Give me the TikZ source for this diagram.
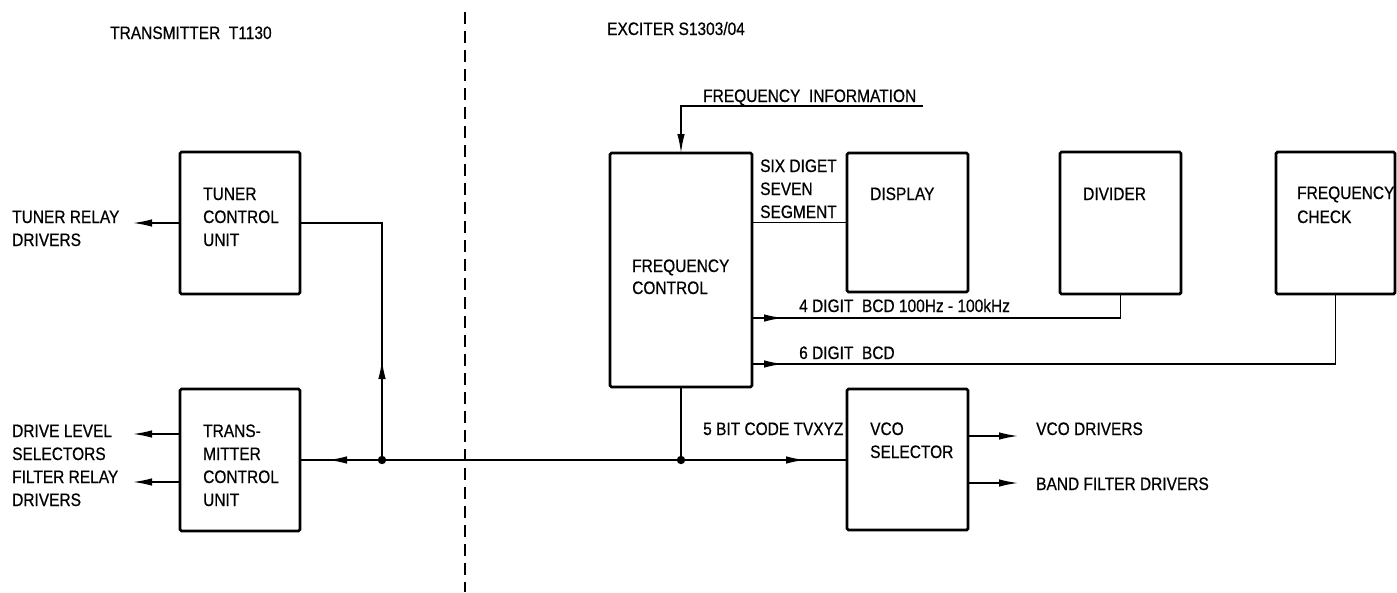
\documentclass[tikz,border=0pt]{standalone}
\usepackage{fontspec}
\setmainfont{Liberation Sans}[FakeStretch=0.86,FakeBold=0.6]
\usetikzlibrary{arrows.meta}
\begin{document}
\begin{tikzpicture}[x=1pt,y=-1pt,
  blk/.style={draw, line width=2.8pt, rounded corners=1.5pt, inner sep=0pt, outer sep=0pt, anchor=north west},
  txt/.style={anchor=base west, inner sep=0pt, font=\fontsize{18}{20}\selectfont},
  conn/.style={line width=1.5pt},
  tip/.style={-{Latex[length=19pt,width=7.5pt]}},
  divline/.style={line width=1.3pt, dash pattern=on 12pt off 7pt}]
\useasboundingbox (0,0) rectangle (1397,592);

% dividing line
\coordinate (dtop) at (465,12);
\coordinate (dbot) at (465,592);
\draw[divline] (dtop) -- (dbot);

% titles
\node[txt] (t1) at (110,39) {TRANSMITTER\ \ T1130};
\node[txt] (t2) at (607,35) {EXCITER S1303/04};

% boxes
\node[blk, minimum width=120pt, minimum height=142pt] (tuner) at (180,152) {};
\node[blk, minimum width=120pt, minimum height=142pt] (tmcu) at (180,389) {};
\node[blk, minimum width=142pt, minimum height=234pt] (fc) at (610,153) {};
\node[blk, minimum width=121pt, minimum height=139pt] (disp) at (847,153) {};
\node[blk, minimum width=121pt, minimum height=142pt] (div) at (1060,152) {};
\node[blk, minimum width=119pt, minimum height=142pt] (fchk) at (1276,152) {};
\node[blk, minimum width=121pt, minimum height=141pt] (vco) at (847,389) {};

% box texts
\node[txt] (tu1) at (203,200) {TUNER};
\node[txt] (tu2) at (203,223) {CONTROL};
\node[txt] (tu3) at (203,246) {UNIT};
\node[txt] (tm1) at (203,437) {TRANS-};
\node[txt] (tm2) at (203,460) {MITTER};
\node[txt] (tm3) at (203,483) {CONTROL};
\node[txt] (tm4) at (203,506) {UNIT};
\node[txt] (fc1) at (632,272) {FREQUENCY};
\node[txt] (fc2) at (632,294) {CONTROL};
\node[txt] (di1) at (870,200) {DISPLAY};
\node[txt] (dv1) at (1083,200) {DIVIDER};
\node[txt] (fk1) at (1297,199) {FREQUENCY};
\node[txt] (fk2) at (1297,223) {CHECK};
\node[txt] (vc1) at (870,435) {VCO};
\node[txt] (vc2) at (870,458) {SELECTOR};

% left labels
\node[txt] (l1) at (12,223) {TUNER RELAY};
\node[txt] (l2) at (12,246) {DRIVERS};
\node[txt] (l3) at (12,437) {DRIVE LEVEL};
\node[txt] (l4) at (12,460) {SELECTORS};
\node[txt] (l5) at (12,483) {FILTER RELAY};
\node[txt] (l6) at (12,506) {DRIVERS};

% other labels
\node[txt] (fi1) at (703,102) {FREQUENCY\ \ INFORMATION};
\node[txt] (sx1) at (760,172) {SIX DIGET};
\node[txt] (sx2) at (760,195) {SEVEN};
\node[txt] (sx3) at (760,218) {SEGMENT};
\node[txt] (bcd4) at (799,312) {4 DIGIT\ \ BCD 100Hz - 100kHz};
\node[txt] (bcd6) at (799,359) {6 DIGIT\ \ BCD};
\node[txt] (bit5) at (703,435) {5 BIT CODE TVXYZ};
\node[txt] (vd) at (1036,435) {VCO DRIVERS};
\node[txt] (bf) at (1036,490) {BAND FILTER DRIVERS};

% left arrows
\coordinate (trd) at (133,223);
\draw[conn,tip] (trd -| tuner.west) -- (trd);
\coordinate (dl) at (133,434);
\draw[conn,tip] (dl -| tmcu.west) -- (dl);
\coordinate (fr) at (133,482);
\draw[conn,tip] (fr -| tmcu.west) -- (fr);

% bus
\coordinate (j1) at (382,460);
\coordinate (j2) at (681,460);
\coordinate (b1) at (328,460);
\coordinate (b2) at (805,460);
\coordinate (u1) at (382,360);
\draw[conn] (tmcu.east |- j1) -- (vco.west |- j1);
\draw[conn,tip] (j1) -- (b1);
\draw[conn,tip] (j2) -- (b2);
\draw[conn] (j1) -- (j1 |- tuner.east) -- (tuner.east);
\draw[conn,tip] (j1) -- (u1);
\draw[conn] (fc.south) -- (j2);
\fill (j1) circle (4.2pt);
\fill (j2) circle (4.2pt);

% frequency information
\coordinate (fi) at (923,106);
\coordinate (fik) at (681,106);
\draw[conn,tip] (fi) -- (fik) -- (fik |- fc.north);

% FC to display
\draw[conn] (fc.east |- disp.west) -- (disp.west);

% BCD lines
\coordinate (a4) at (783,318);
\draw[conn] (fc.east |- a4) -- (a4 -| div.south) -- (div.south);
\draw[conn,tip] (fc.east |- a4) -- (a4);
\coordinate (a6) at (783,364);
\draw[conn] (fc.east |- a6) -- (a6 -| fchk.south) -- (fchk.south);
\draw[conn,tip] (fc.east |- a6) -- (a6);

% VCO outputs
\coordinate (v1) at (1018,436);
\draw[conn,tip] (v1 -| vco.east) -- (v1);
\coordinate (v2) at (1018,483);
\draw[conn,tip] (v2 -| vco.east) -- (v2);
\end{tikzpicture}
\end{document}
